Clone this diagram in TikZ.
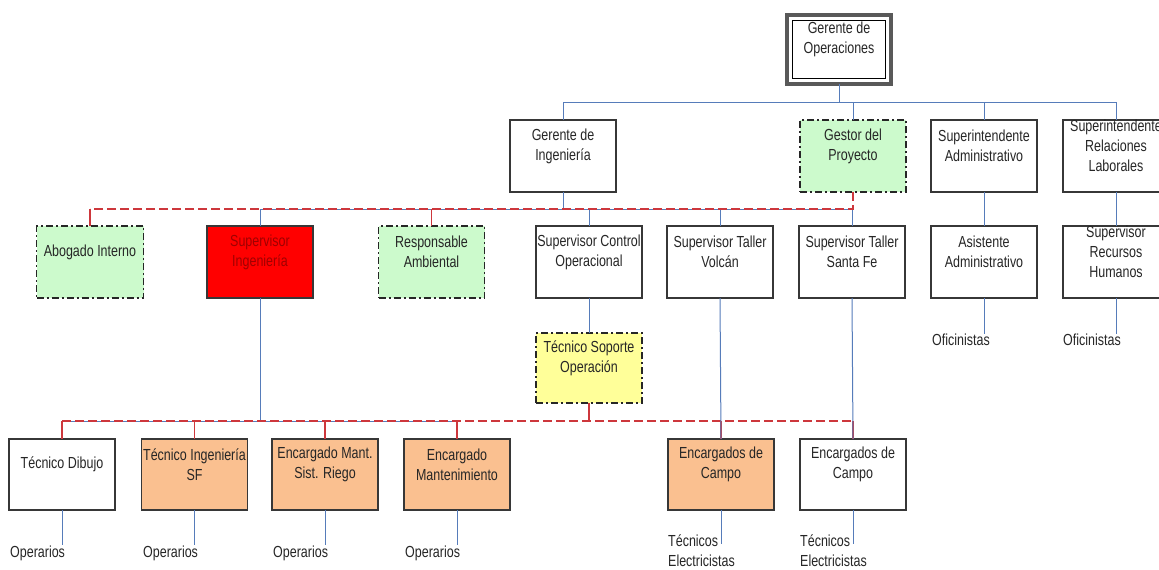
\documentclass[tikz,border=0pt]{standalone}
\usepackage{fontspec}
\setmainfont[FakeStretch=0.78]{Liberation Sans}
\usetikzlibrary{calc}

\definecolor{conblue}{RGB}{86,124,186}
\definecolor{conred}{RGB}{205,55,60}
\definecolor{palegreen}{RGB}{204,250,204}
\definecolor{paleyellow}{RGB}{255,255,153}
\definecolor{peach}{RGB}{250,192,144}
\definecolor{sired}{RGB}{255,0,0}
\definecolor{sitext}{RGB}{160,0,0}
\definecolor{boxline}{RGB}{55,55,55}

\tikzset{
  box/.style={draw=boxline, line width=1.3pt, fill=white, minimum width=106pt,
    minimum height=72pt, inner sep=0pt, outer sep=0pt},
  staff/.style={box, fill=palegreen, draw=black!85, line width=1.6pt,
    dash pattern=on 7pt off 3pt on 2pt off 3pt},
  support/.style={staff, fill=paleyellow, minimum height=70pt},
  field/.style={box, fill=peach},
  hot/.style={box, fill=sired},
  lowrow/.style={minimum height=71pt},
  lbl/.style={inner sep=0pt, align=center, text=black!85, font=\fontsize{16}{20}\selectfont},
  note/.style={inner sep=0pt, align=left, text=black!85, font=\fontsize{16}{20}\selectfont},
  blueline/.style={draw=conblue, line width=1pt},
  reddash/.style={draw=conred, line width=1.8pt, dash pattern=on 9pt off 4pt},
  redline/.style={draw=conred, line width=1.5pt},
}

\begin{document}
\begin{tikzpicture}[x=1pt, y=-1pt]
\useasboundingbox (0,0) rectangle (1159,570);
\fill[white] (0,0) rectangle (1159,570);

% ---- top manager (double frame) ----
\node[box, minimum width=104pt, minimum height=69pt, line width=4pt, draw=black!65] (top) at (839,49.5) {};
\draw[line width=1pt, black] ([shift={(5.5pt,-5.5pt)}]top.north west) rectangle ([shift={(-5.5pt,5.5pt)}]top.south east);
\node[lbl] (top-t) at ([yshift=10pt]top.center) {Gerente de\\Operaciones};

% ---- second level ----
\node[box] (gi) at (563,156) {};
\node[lbl] (gi-t) at ([yshift=10pt]gi.center) {Gerente de\\Ingeniería};
\node[staff] (gp) at (853,156) {};
\node[lbl] (gp-t) at ([yshift=10pt]gp.center) {Gestor del\\Proyecto};
\node[box] (sa) at (984,156) {};
\node[lbl] (sa-t) at ([yshift=10pt]sa.center) {Superintendente\\Administrativo};
\node[box] (sr) at (1116,156) {};
\node[lbl] (sr-t) at ([yshift=10pt]sr.center) {Superintendente\\Relaciones\\Laborales};

% ---- third level ----
\node[staff, minimum width=107pt] (ab) at (90,262) {};
\node[lbl] (ab-t) at ([yshift=10pt]ab.center) {Abogado Interno};
\node[hot] (si) at (260,262) {};
\node[lbl] (si-t) at ([yshift=10pt]si.center) {\textcolor{sitext}{Supervisor}\\\textcolor{sitext}{Ingeniería}};
\node[staff] (ra) at (431.5,262) {};
\node[lbl] (ra-t) at ([yshift=10pt]ra.center) {Responsable\\Ambiental};
\node[box] (sc) at (589,262) {};
\node[lbl] (sc-t) at ([yshift=10pt]sc.center) {Supervisor Control\\Operacional};
\node[box] (sv) at (720,262) {};
\node[lbl] (sv-t) at ([yshift=10pt]sv.center) {Supervisor Taller\\Volcán};
\node[box] (ss) at (852,262) {};
\node[lbl] (ss-t) at ([yshift=10pt]ss.center) {Supervisor Taller\\Santa Fe};
\node[box] (as) at (984,262) {};
\node[lbl] (as-t) at ([yshift=10pt]as.center) {Asistente\\Administrativo};
\node[box] (sh) at (1116,262) {};
\node[lbl] (sh-t) at ([yshift=10pt]sh.center) {Supervisor\\Recursos\\Humanos};

\node[support] (ts) at (589,368) {};
\node[lbl] (ts-t) at ([yshift=10pt]ts.center) {Técnico Soporte\\Operación};

% ---- fourth level ----
\node[box, lowrow] (td) at (62,474.5) {};
\node[lbl] (td-t) at ([yshift=10pt]td.center) {Técnico Dibujo};
\node[field, lowrow] (ti) at (194.5,474.5) {};
\node[lbl] (ti-t) at ([yshift=10pt]ti.center) {Técnico Ingeniería\\SF};
\node[field, lowrow] (em) at (325,474.5) {};
\node[lbl] (em-t) at ([yshift=10pt]em.center) {Encargado Mant.\\Sist. Riego};
\node[field, lowrow] (en) at (457,474.5) {};
\node[lbl] (en-t) at ([yshift=10pt]en.center) {Encargado\\Mantenimiento};
\node[field, lowrow] (ec1) at (721,474.5) {};
\node[lbl] (ec1-t) at ([yshift=10pt]ec1.center) {Encargados de\\Campo};
\node[box, lowrow] (ec2) at (853,474.5) {};
\node[lbl] (ec2-t) at ([yshift=10pt]ec2.center) {Encargados de\\Campo};

% ---- staff under each unit ----
\node[note, anchor=west] (op1) at (10,553) {Operarios};
\node[note, anchor=west] (op2) at (143,553) {Operarios};
\node[note, anchor=west] (op3) at (273,553) {Operarios};
\node[note, anchor=west] (op4) at (405,553) {Operarios};
\node[note, anchor=north west] (te1) at (668,535) {Técnicos\\Electricistas};
\node[note, anchor=north west] (te2) at (800,535) {Técnicos\\Electricistas};
\node[note, anchor=west] (of1) at (932,340) {Oficinistas};
\node[note, anchor=west] (of2) at (1063,340) {Oficinistas};

% ---- bus points ----
\coordinate (bus1) at (839,102.5);
\coordinate (bus2) at (563,209);
\coordinate (bus3) at (853,209);
\coordinate (bus4) at (260,421);
\coordinate (bus5) at (589,421);

% ---- line reporting (solid blue) ----
\foreach \c in {gi,gp,sa,sr}
  \draw[blueline] (top.south) -- (bus1) -| (\c.north);
\foreach \c in {si,sc,sv,ss}
  \draw[blueline] (gi.south) -- (bus2) -| (\c.north);
\draw[blueline] (sa.south) -- (as.north);
\draw[blueline] (sr.south) -- (sh.north);
\draw[blueline] (sc.south) -- (ts.north);
\foreach \c in {td,ti,em,en}
  \draw[blueline] (si.south) -- (bus4) -| (\c.north);

% ---- functional reporting (red dashed) ----
\draw[reddash] (gp.south) -- (bus3) -- (bus3 -| ab.north);
\draw[redline] (bus3 -| ab.north) -- (ab.north);
\draw[redline] (bus3 -| ra.north) -- (ra.north);
\draw[redline] (ts.south) -- (bus5);
\draw[reddash] (bus5 -| td.north) -- (bus5 -| ec2.north);
\foreach \c in {td,ti,em,en,ec1,ec2}
  \draw[redline] (bus5 -| \c.north) -- (\c.north);

\draw[blueline] (sv.south) -- (ec1.north);
\draw[blueline] (ss.south) -- (ec2.north);

% ---- links to staff texts ----
\draw[blueline] (td.south) -- (td.south |- op1.north);
\draw[blueline] (ti.south) -- (ti.south |- op2.north);
\draw[blueline] (em.south) -- (em.south |- op3.north);
\draw[blueline] (en.south) -- (en.south |- op4.north);
\draw[blueline] (ec1.south) -- ([yshift=-9pt]ec1.south |- te1.north);
\draw[blueline] (ec2.south) -- ([yshift=-9pt]ec2.south |- te2.north);
\draw[blueline] (as.south) -- (as.south |- of1.north);
\draw[blueline] (sh.south) -- (sh.south |- of2.north);
\end{tikzpicture}
\end{document}
